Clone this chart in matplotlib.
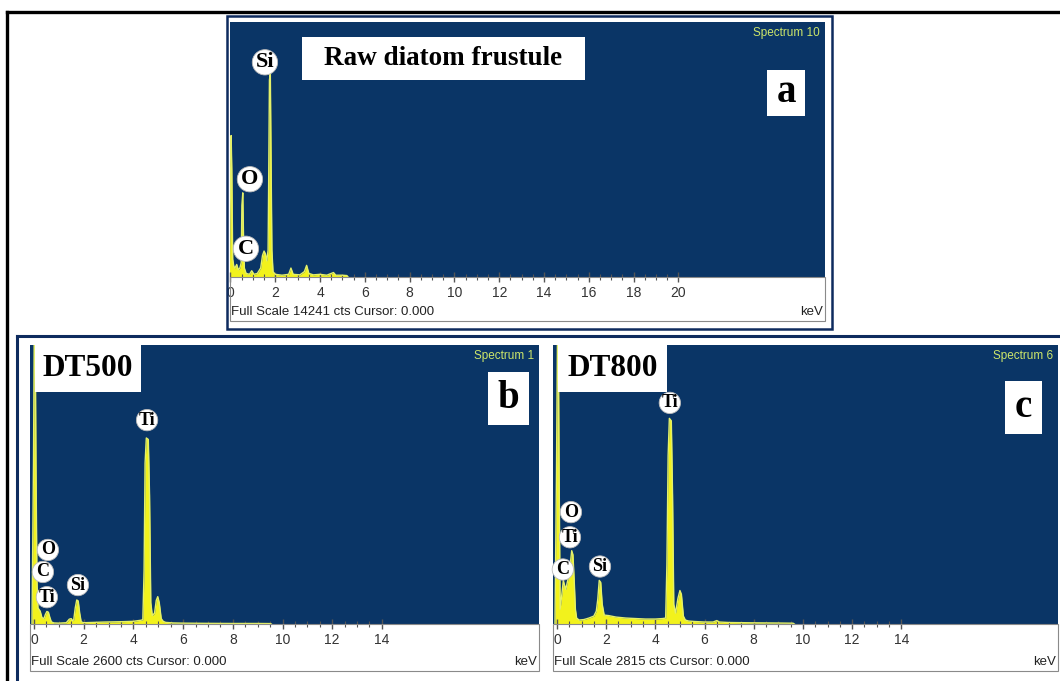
import matplotlib
matplotlib.use("Agg")
import matplotlib.pyplot as plt
import numpy as np
from matplotlib import ticker
from matplotlib.patches import Rectangle, Circle
from matplotlib.lines import Line2D

# ---- spectrum data (energy in keV, counts) ----
raw_keV = [-0.05, 0.0, 0.03, 0.06, 0.1, 0.15, 0.2, 0.28, 0.35, 0.42, 0.48, 0.51, 0.55, 0.58,
           0.62, 0.7, 0.85, 0.95, 1.05, 1.2, 1.35, 1.43, 1.5, 1.56, 1.62, 1.68, 1.71, 1.74,
           1.78, 1.81, 1.85, 1.9, 2.0, 2.3, 2.6, 2.7, 2.8, 3.1, 3.3, 3.4, 3.5, 3.7, 4.0,
           4.3, 4.6, 4.7, 5.0, 5.2, 5.25]
raw_cts = [0, 5000, 7900, 6000, 1000, 600, 500, 700, 400, 500, 800, 4000, 4700, 2500,
           500, 200, 150, 350, 150, 200, 500, 1200, 1450, 1300, 900, 1500, 6000, 11000,
           11400, 7000, 1500, 300, 150, 100, 150, 500, 150, 120, 300, 650, 200, 120, 150,
           100, 250, 100, 100, 80, 0]

dt500_keV = [-0.08, -0.02, 0.03, 0.08, 0.12, 0.16, 0.25, 0.32, 0.4, 0.46, 0.52, 0.58, 0.64,
             0.7, 0.8, 1.0, 1.3, 1.42, 1.5, 1.56, 1.6, 1.66, 1.72, 1.78, 1.84, 1.9, 2.0,
             2.4, 2.8, 3.2, 3.6, 4.0, 4.3, 4.38, 4.43, 4.47, 4.52, 4.6, 4.65, 4.7, 4.76,
             4.85, 4.92, 4.98, 5.04, 5.12, 5.2, 5.3, 5.6, 6.0, 7.0, 8.0, 9.0, 9.5, 9.55]
dt500_cts = [0, 1500, 3500, 1500, 400, 150, 120, 60, 50, 90, 117, 110, 60,
             20, 10, 8, 12, 45, 50, 30, 40, 150, 224, 215, 100, 20, 12,
             15, 18, 20, 22, 25, 35, 40, 500, 1500, 1734, 1720, 1200, 200, 80,
             100, 220, 255, 200, 50, 25, 15, 10, 8, 6, 5, 5, 4, 0]

dt800_keV = [-0.08, -0.02, 0.04, 0.09, 0.13, 0.2, 0.26, 0.3, 0.36, 0.42, 0.48, 0.55, 0.6,
             0.65, 0.7, 0.75, 0.8, 0.9, 1.1, 1.3, 1.5, 1.6, 1.66, 1.72, 1.78, 1.84, 1.92,
             2.1, 2.4, 2.8, 3.2, 3.6, 4.0, 4.3, 4.42, 4.47, 4.52, 4.57, 4.65, 4.7, 4.75,
             4.82, 4.92, 5.0, 5.06, 5.14, 5.22, 5.35, 5.6, 6.0, 6.35, 6.5, 6.6, 7.0, 8.0,
             9.0, 9.6, 9.65]
dt800_cts = [0, 1500, 3500, 1500, 150, 300, 440, 400, 350, 420, 480, 620, 740,
             700, 450, 150, 60, 40, 45, 60, 80, 130, 250, 440, 420, 200, 90,
             85, 70, 60, 55, 50, 50, 55, 60, 600, 1700, 2075, 2050, 1300, 200,
             110, 260, 338, 300, 80, 40, 30, 25, 20, 20, 35, 20, 15, 12,
             10, 8, 0]

full_scale = [14241, 2600, 2815]
spectrum_names = ["Spectrum 10", "Spectrum 1", "Spectrum 6"]
sample_names = ["Raw diatom frustule", "DT500", "DT800"]
panel_letters = ["a", "b", "c"]

# element labels: text, energy, label height (counts)
raw_labels = ["Si", "O", "C"]
raw_label_keV = [1.54, 0.87, 0.69]
raw_label_cts = [11990, 5460, 1576]

dt500_labels = ["Ti", "O", "C", "Ti", "Si"]
dt500_label_keV = [4.55, 0.56, 0.36, 0.52, 1.77]
dt500_label_cts = [1900, 690, 485, 250, 363]

dt800_labels = ["Ti", "O", "Ti", "C", "Si"]
dt800_label_keV = [4.59, 0.57, 0.53, 0.24, 1.75]
dt800_label_cts = [2231, 1129, 875, 550, 580]

W, H = 1060, 681
NAVY = "#0a3566"
FRAME = "#0e2b5e"
YELLOW = "#f2f21c"
EDGE = "#e4f06a"
SANS = "Liberation Sans"
SERIF = "Liberation Serif"

fig = plt.figure(figsize=(W / 100, H / 100), dpi=100)
fig.patch.set_facecolor("white")


def fbox(x0, y0, x1, y1):
    return [x0 / W, 1 - y1 / H, (x1 - x0) / W, (y1 - y0) / H]


def frect(x0, y0, x1, y1, **kw):
    r = Rectangle((x0 / W, 1 - y1 / H), (x1 - x0) / W, (y1 - y0) / H,
                  transform=fig.transFigure, **kw)
    fig.patches.append(r)
    return r


def fline(xs, ys, **kw):
    fig.lines.append(Line2D([x / W for x in xs], [1 - y / H for y in ys],
                            transform=fig.transFigure, **kw))


def ftext(x, y, s, **kw):
    fig.text(x / W, 1 - y / H, s, **kw)


def draw_panel(plot_px, strip_bottom, xlim, tick_end, keV, cts, fs, labels, lab_keV,
               lab_cts, lab_size, spec_name):
    x0, y0, x1, y1 = plot_px
    ax = fig.add_axes(fbox(x0, y0, x1, y1))
    ax.set_facecolor(NAVY)
    ax.fill_between(keV, cts, 0, color=YELLOW, lw=0)
    ax.plot(keV, cts, color=EDGE, lw=1.0)
    ax.set_xlim(*xlim)
    ax.set_ylim(0, fs)
    for s in ax.spines.values():
        s.set_visible(False)
    ax.set_yticks([])
    ax.xaxis.set_major_locator(ticker.FixedLocator(np.arange(0, tick_end + 0.01, 2)))
    ax.xaxis.set_minor_locator(ticker.FixedLocator(np.arange(0, tick_end + 0.01, 0.5)))
    ax.xaxis.set_major_formatter(ticker.FormatStrFormatter("%d"))
    ax.tick_params(axis="x", which="major", direction="inout", length=7, width=1,
                   color="#555555", pad=3, labelsize=10, labelcolor="#333333")
    ax.tick_params(axis="x", which="minor", direction="inout", length=5, width=0.8,
                   color="#555555")
    for t in ax.get_xticklabels():
        t.set_fontfamily(SANS)
    for s, e, c in zip(labels, lab_keV, lab_cts):
        ax.text(e, c, s, ha="center", va="center", fontsize=lab_size,
                fontfamily=SERIF, fontweight="bold", color="black", zorder=5,
                bbox=dict(boxstyle="circle,pad=0.12", fc="white", ec="#bbbbbb", lw=0.6))
    # white strip below the plot with grey border
    frect(x0, y1, x1, strip_bottom, fc="none", ec="#8a8a8a", lw=0.8)
    ftext(x0 + 1, strip_bottom - 9, f"Full Scale {fs} cts Cursor: 0.000",
          ha="left", va="center", fontsize=9.5, fontfamily=SANS, color="#222222")
    ftext(x1 - 2, strip_bottom - 9, "keV", ha="right", va="center", fontsize=9.5,
          fontfamily=SANS, color="#222222")
    ftext(x1 - 5, y0 + 11, spec_name, ha="right", va="center", fontsize=8.5,
          fontfamily=SANS, color="#cde66a")
    return ax


# outer black frame (cropped at right and bottom)
fline([7, 1062], [12, 12], color="black", lw=2.4)
fline([7, 7], [12, 683], color="black", lw=2.4)

# panel a
frect(227, 16, 832, 329, fc="none", ec=FRAME, lw=1.8)
ax_a = draw_panel((230, 22, 825, 277), 321, (-0.02, 26.54), 20, raw_keV, raw_cts,
                  full_scale[0], raw_labels, raw_label_keV, raw_label_cts, 16,
                  spectrum_names[0])
ax_a.add_patch(Circle((1.09, 2364), 0.35, transform=ax_a.transData, fc="#c8c8d8",
                      ec="none", alpha=0.6, zorder=4))

# panels b and c group frame
fline([17, 1062], [336, 336], color=FRAME, lw=2.2)
fline([17, 17], [336, 683], color=FRAME, lw=2.2)
ax_b = draw_panel((30, 345, 539, 624), 671, (-0.16, 20.32), 14, dt500_keV, dt500_cts,
                  full_scale[1], dt500_labels, dt500_label_keV, dt500_label_cts, 13,
                  spectrum_names[1])
ax_c = draw_panel((553, 345, 1058, 624), 671, (-0.16, 20.37), 14, dt800_keV, dt800_cts,
                  full_scale[2], dt800_labels, dt800_label_keV, dt800_label_cts, 13,
                  spectrum_names[2])

# white caption boxes
boxes = [((302, 37, 585, 80), sample_names[0], 19.5),
         ((767, 70, 805, 116), panel_letters[0], 28),
         ((35, 345, 141, 392), sample_names[1], 22.5),
         ((488, 372, 529, 425), panel_letters[1], 28),
         ((558, 345, 667, 392), sample_names[2], 22.5),
         ((1005, 381, 1042, 434), panel_letters[2], 28)]
for (bx0, by0, bx1, by1), txt, size in boxes:
    frect(bx0, by0, bx1, by1, fc="white", ec="none", zorder=10)
    ftext((bx0 + bx1) / 2, (by0 + by1) / 2, txt, ha="center", va="center",
          fontsize=size, fontfamily=SERIF, fontweight="bold", color="black", zorder=11)

fig.savefig("out.png", dpi=100)
